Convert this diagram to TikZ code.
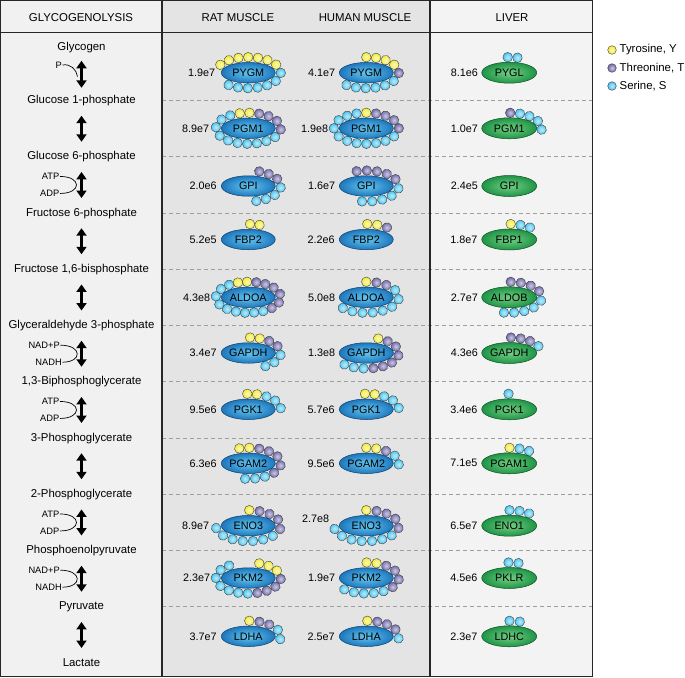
\documentclass[tikz,border=0pt]{standalone}
\usepackage{fontspec}
\setmainfont{Liberation Sans}
\usetikzlibrary{arrows.meta,shapes.geometric,decorations.markings,calc}

\definecolor{cY}{HTML}{F3EB3A}
\definecolor{cT}{HTML}{6C66AA}
\definecolor{cS}{HTML}{46C4EF}
\definecolor{enzB}{HTML}{1C77BD}
\definecolor{enzBl}{HTML}{66C6EE}
\definecolor{enzG}{HTML}{1E9446}
\definecolor{enzGl}{HTML}{74CF84}
\definecolor{bgA}{HTML}{F1F1F1}
\definecolor{bgM}{HTML}{E4E4E4}
\definecolor{bgL}{HTML}{F3F3F3}

\newcommand\hdrfont{\fontsize{11.4}{13}\selectfont}
\newcommand\metfont{\fontsize{11.4}{13}\selectfont}
\newcommand\numfont{\fontsize{10.8}{12}\selectfont}
\newcommand\coffont{\fontsize{9.3}{11}\selectfont}

\newcommand\ringP{155.6}
% #1 centre coordinate, #2 start (arc, clockwise from top), #3 spacing, #4 colours
\newcommand\beadring[4]{%
  \foreach \col [count=\i from 0] in {#4}{%
    \pgfmathsetmacro\ff{mod(0.75*\ringP + (#2) + \i*(#3) + \ringP, \ringP)/\ringP}%
    \path[decorate, decoration={markings, mark=at position \ff with {\shadedraw[beadsty=\col] (0,0) circle (4.8);}}] (#1) ellipse [x radius=32.5, y radius=15.5];
  }%
}
% #1 coord, #2 style, #3 label, #4 number, #5 number shift, #6 q0, #7 d, #8 beads
\newcommand\enz[8]{%
  \ifx\relax#8\relax\else\beadring{#1}{#6}{#7}{#8}\fi
  \node[#2] (#1e) at (#1) {#3};
  \node[numsty, anchor=east] (#1n) at ($(#1)+(#5)$) {#4};
}

\begin{document}
\begin{tikzpicture}[x=1pt,y=-1pt,
  tabline/.style={line width=1.2pt, draw=black!85},
  dashsty/.style={draw=black!38, line width=0.8pt, dash pattern=on 4pt off 3pt},
  enzb/.style={ellipse, minimum width=54, minimum height=20.5, inner sep=0pt, draw=enzB!55!black, line width=0.5pt, inner color=enzBl, outer color=enzB, font=\numfont},
  enzg/.style={ellipse, minimum width=55, minimum height=21, inner sep=0pt, draw=enzG!55!black, line width=0.5pt, inner color=enzGl, outer color=enzG, font=\numfont},
  numsty/.style={font=\numfont, inner sep=0pt},
  beadsty/.style={draw=black!75, line width=0.4pt, inner color=#1!35!white, outer color=#1},
  metsty/.style={font=\metfont, inner sep=1pt},
  hdrsty/.style={font=\hdrfont, inner sep=1pt},
  cofsty/.style={font=\coffont, inner sep=0.5pt, anchor=east},
  cofline/.style={line width=0.7pt, draw=black},
  dblarrow/.style={line width=2.3pt, {Triangle[width=10pt,length=7.5pt]}-{Triangle[width=10pt,length=7.5pt]}},
  legdot/.style={circle, minimum size=8.6, inner sep=0pt, draw=black!75, line width=0.4pt, inner color=#1!35!white, outer color=#1},
  legsty/.style={font=\metfont, inner sep=0pt, anchor=west}
]
\useasboundingbox (0,0) rectangle (685,677);
\fill[white] (0,0) rectangle (685,677);
% column backgrounds
\fill[bgA] (0.7,0.7) rectangle (162,676.3);
\fill[bgM] (162,0.7) rectangle (430,676.3);
\fill[bgL] (430,0.7) rectangle (592.3,676.3);
% dashed row rules
\foreach \k in {0,...,9}{
  \draw[dashsty] (162,{100.6+56.25*\k}) -- (592.3,{100.6+56.25*\k});
}
% enzyme centres
\foreach \k/\yy in {0/72.7,1/128.3,2/186,3/239.5,4/297.3,5/353,6/409.3,7/463.3,8/525.7,9/578,10/636.3}{
  \coordinate (r\k) at (248.3,\yy);
  \coordinate (h\k) at (366.3,\yy);
  \coordinate (l\k) at (509.2,\yy);
}
% row 0
\enz{r0}{enzb}{PYGM}{1.9e7}{-33,0}{-29.5}{9.8}{cY,cY,cY,cY,cY,cY,cY,cS,cS,cS,cS,cS,cS,cS}
\enz{h0}{enzb}{PYGM}{4.1e7}{-31,0}{0}{9.8}{cY,cY,cY,cY,cT,cS,cS,cS,cS,cS,cS}
\enz{l0}{enzg}{PYGL}{8.1e6}{-31,0}{-1.5}{9.8}{cS,cS}
% row 1
\enz{r1}{enzb}{PGM1}{8.9e7}{-39,0}{-28}{9.72}{cS,cS,cY,cY,cT,cT,cT,cT,cS,cS,cS,cS,cS,cS,cS,cS}
\enz{h1}{enzb}{PGM1}{1.9e8}{-38,0}{-38.9}{9.72}{cS,cS,cS,cS,cY,cT,cT,cT,cT,cS,cS,cS,cS,cS,cS,cS}
\enz{l1}{enzg}{PGM1}{1.0e7}{-31,0}{1}{9.8}{cT,cS,cS,cS,cS}
% row 2
\enz{r2}{enzb}{GPI}{2.0e6}{-31.5,0}{11}{9.8}{cT,cT,cT,cS,cS,cS,cS}
\enz{h2}{enzb}{GPI}{1.6e7}{-31,0}{-9.7}{10.2}{cT,cT,cT,cT,cT,cS,cS,cS,cS,cS}
\enz{l2}{enzg}{GPI}{2.4e5}{-31,0}{0}{10}{}
% row 3
\enz{r3}{enzb}{FBP2}{5.2e5}{-31.5,0}{1.7}{9.6}{cY,cY}
\enz{h3}{enzb}{FBP2}{2.2e6}{-31.5,0}{1}{10}{cY,cY,cT}
\enz{l3}{enzg}{FBP1}{1.8e7}{-31.5,0}{1.5}{9.8}{cY,cS,cS}
% row 4
\enz{r4}{enzb}{ALDOA}{4.3e8}{-38,0}{-19.5}{9.15}{cS,cY,cY,cT,cT,cT,cT,cT,cT,cS,cS,cS,cS,cS,cS,cS,cS}
\enz{h4}{enzb}{ALDOA}{5.0e8}{-31,0}{0}{10.2}{cY,cT,cT,cS,cS,cS,cS,cS,cS,cS,cS}
\enz{l4}{enzg}{ALDOB}{2.7e7}{-31,0}{1.5}{10.2}{cT,cT,cT,cT,cS,cS,cS,cS,cS}
% row 5
\enz{r5}{enzb}{GAPDH}{3.4e7}{-31.5,0}{1.7}{9.8}{cY,cY,cT,cT,cS,cS,cS}
\enz{h5}{enzb}{GAPDH}{1.3e8}{-31,0}{12}{9.8}{cY,cT,cT,cT,cT,cT,cT,cS,cS,cS}
\enz{l5}{enzg}{GAPDH}{4.3e6}{-31,0}{1.7}{9.8}{cT,cT,cT,cS}
% row 6
\enz{r6}{enzb}{PGK1}{9.5e6}{-31.5,0}{-1}{9.7}{cY,cY,cS,cS,cS}
\enz{h6}{enzb}{PGK1}{5.7e6}{-31.5,0}{-1.3}{9.7}{cY,cY,cS,cS,cS}
\enz{l6}{enzg}{PGK1}{3.4e6}{-31.5,0}{-0.7}{9.7}{cS}
% row 7
\enz{r7}{enzb}{PGAM2}{6.3e6}{-31.5,0}{-9}{10}{cY,cY,cT,cT,cT,cT,cT,cS,cS,cS}
\enz{h7}{enzb}{PGAM2}{9.5e6}{-31.5,0}{0}{10}{cY,cY,cT,cS,cS}
\enz{l7}{enzg}{PGAM1}{7.1e5}{-31.5,0}{0.3}{10}{cY,cS,cS}
% row 8
\enz{r8}{enzb}{ENO3}{8.9e7}{-39,0}{1}{10.3}{cY,cT,cT,cT,cT,cS,cS,cS,cS,cS,cS,cS}
\enz{h8}{enzb}{ENO3}{2.7e8}{-37,-7}{0}{10.3}{cY,cT,cT,cT,cT,cS,cS,cS,cS,cS,cS,cS}
\enz{l8}{enzg}{ENO1}{6.5e7}{-31.5,0}{0.3}{10}{cS,cS,cS}
% row 9
\enz{r9}{enzb}{PKM2}{2.3e7}{-38,0}{11}{9.62}{cY,cY,cY,cT,cT,cT,cT,cS,cS,cS,cS,cS,cS,cS}
\enz{h9}{enzb}{PKM2}{1.9e7}{-31,0}{0.3}{10}{cY,cY,cT,cT,cT,cT,cS,cS,cS,cS,cS}
\enz{l9}{enzg}{PKLR}{4.5e6}{-31.5,0}{-0.7}{10}{cS,cS}
% row 10
\enz{r10}{enzb}{LDHA}{3.7e7}{-31.5,0}{1}{10.2}{cY,cT,cT,cS,cS}
\enz{h10}{enzb}{LDHA}{2.5e7}{-31.5,0}{1}{10}{cY,cT,cT,cT,cS}
\enz{l10}{enzg}{LDHC}{2.3e7}{-31.5,0}{0.3}{10.3}{cS,cS}

% table frame
\draw[tabline] (0.7,0.7) rectangle (592.3,676.3);
\draw[tabline] (0.7,32.3) -- (592.3,32.3);
\draw[tabline] (162,0.7) -- (162,676.3);
\draw[tabline] (430,0.7) -- (430,676.3);

% headers
\node[hdrsty] (hg) at (81,17.5) {GLYCOGENOLYSIS};
\node[hdrsty] (hr) at (238,17.5) {RAT MUSCLE};
\node[hdrsty] (hh) at (365,17.5) {HUMAN MUSCLE};
\node[hdrsty] (hl) at (512,17.5) {LIVER};

% metabolites
\node[metsty] (m0) at (81.5,48) {Glycogen};
\node[metsty] (m1) at (81.5,100.6) {Glucose 1-phosphate};
\node[metsty] (m2) at (81.5,156.85) {Glucose 6-phosphate};
\node[metsty] (m3) at (81.5,213.1) {Fructose 6-phosphate};
\node[metsty] (m4) at (81.5,269.35) {Fructose 1,6-bisphosphate};
\node[metsty] (m5) at (81.5,325.6) {Glyceraldehyde 3-phosphate};
\node[metsty] (m6) at (81.5,381.85) {1,3-Biphosphoglycerate};
\node[metsty] (m7) at (81.5,438.1) {3-Phosphoglycerate};
\node[metsty] (m8) at (81.5,494.35) {2-Phosphoglycerate};
\node[metsty] (m9) at (81.5,550.6) {Phosphoenolpyruvate};
\node[metsty] (m10) at (81.5,606.85) {Pyruvate};
\node[metsty] (m11) at (81.5,663.1) {Lactate};

% reaction arrows
\draw[dblarrow, shorten <=12.8pt, shorten >=12.8pt] (m0.center) -- (m1.center);
\foreach \a/\b in {1/2,2/3,3/4,4/5,5/6,6/7,7/8,8/9,9/10,10/11}{
  \draw[dblarrow, shorten <=15.1pt, shorten >=15.1pt] (m\a.center) -- (m\b.center);
}

% cofactors
\node[cofsty] (p0) at (62.5,65) {P};
\coordinate (p0end) at (77.5,76.5);
\draw[cofline] (p0.east) .. controls +(8,-1.5) and +(-1,-7) .. (p0end);

\foreach \k/\yy in {2/184.95,6/409.95,8/522.45}{
  \node[cofsty] (ca\k) at (60,\yy-8.5) {ATP};
  \node[cofsty] (cb\k) at (60,\yy+8.5) {ADP};
  \draw[cofline] (ca\k.east) .. controls +(22,0) and +(22,0) .. (cb\k.east);
}
\foreach \k/\yy in {5/353.7,9/578.7}{
  \node[cofsty] (ca\k) at (60.5,\yy-8.5) {NAD+P};
  \node[cofsty] (cb\k) at (62.5,\yy+8.5) {NADH};
  \draw[cofline] (ca\k.east) .. controls +(22,0) and +(20,0) .. (cb\k.east);
}

% legend
\node[legdot=cY] (lgY) at (612,50) {};
\node[legdot=cT] (lgT) at (612,68) {};
\node[legdot=cS] (lgS) at (612,86) {};
\node[legsty] (ltY) at (619.5,50) {Tyrosine, Y};
\node[legsty] (ltT) at (619.5,68) {Threonine, T};
\node[legsty] (ltS) at (619.5,86) {Serine, S};
\end{tikzpicture}
\end{document}
